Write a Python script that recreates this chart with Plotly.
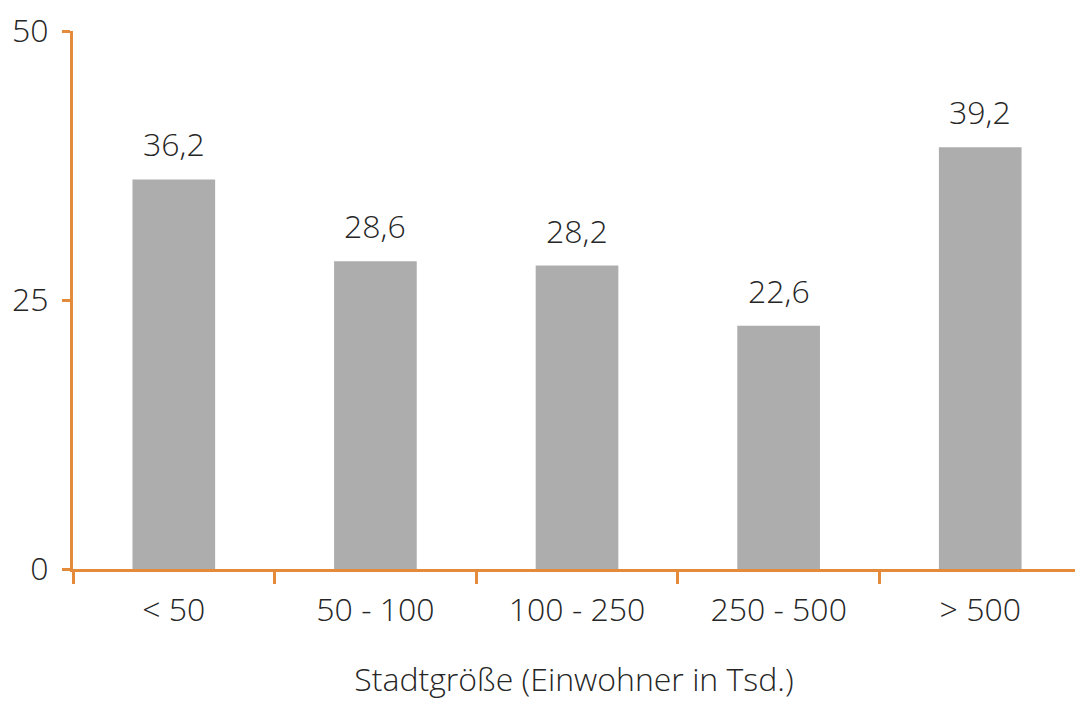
import plotly.graph_objects as go

# Share by city size (thousand inhabitants)
categories = ["< 50", "50 - 100", "100 - 250", "250 - 500", "> 500"]
values = [36.2, 28.6, 28.2, 22.6, 39.2]
y_ticks = [0, 25, 50]

axis_color = "#E38B3A"
bar_color = "#ADADAD"
text_color = "#262626"
font_family = "'Open Sans', sans-serif"
font_size = 32

labels = [f"{v:.1f}".replace(".", ",") for v in values]

fig = go.Figure()
fig.add_trace(go.Bar(
    x=categories,
    y=values,
    marker=dict(color=bar_color, line=dict(width=0)),
    width=0.41,
    hoverinfo="skip",
))

# value labels above the bars
for c, v, t in zip(categories, values, labels):
    fig.add_annotation(
        x=c, y=v, text=t, showarrow=False,
        yanchor="bottom", yshift=12,
        font=dict(family=font_family, size=font_size, color=text_color, weight=300),
    )

fig.update_layout(
    width=1075, height=702,
    margin=dict(l=73, r=0, t=31, b=133),
    plot_bgcolor="white", paper_bgcolor="white",
    showlegend=False,
    font=dict(family=font_family, size=font_size, color=text_color, weight=300),
    bargap=0.59,
)

fig.update_xaxes(
    range=[-0.5, 4.47],
    showline=True, linecolor=axis_color, linewidth=3,
    ticks="outside", tickson="boundaries", ticklen=12, tickwidth=2.5, tickcolor=axis_color,
    ticklabelstandoff=11,
    showgrid=False, zeroline=False,
    title=dict(text="Stadtgröße (Einwohner in Tsd.)", standoff=40,
               font=dict(family=font_family, size=font_size, color=text_color, weight=300)),
)

fig.update_yaxes(
    range=[0, 50],
    tickvals=y_ticks,
    showline=True, linecolor=axis_color, linewidth=3,
    ticks="outside", ticklen=8, tickwidth=2.5, tickcolor=axis_color,
    ticklabelstandoff=7,
    showgrid=False, zeroline=False,
)

fig.write_html("out.html")
